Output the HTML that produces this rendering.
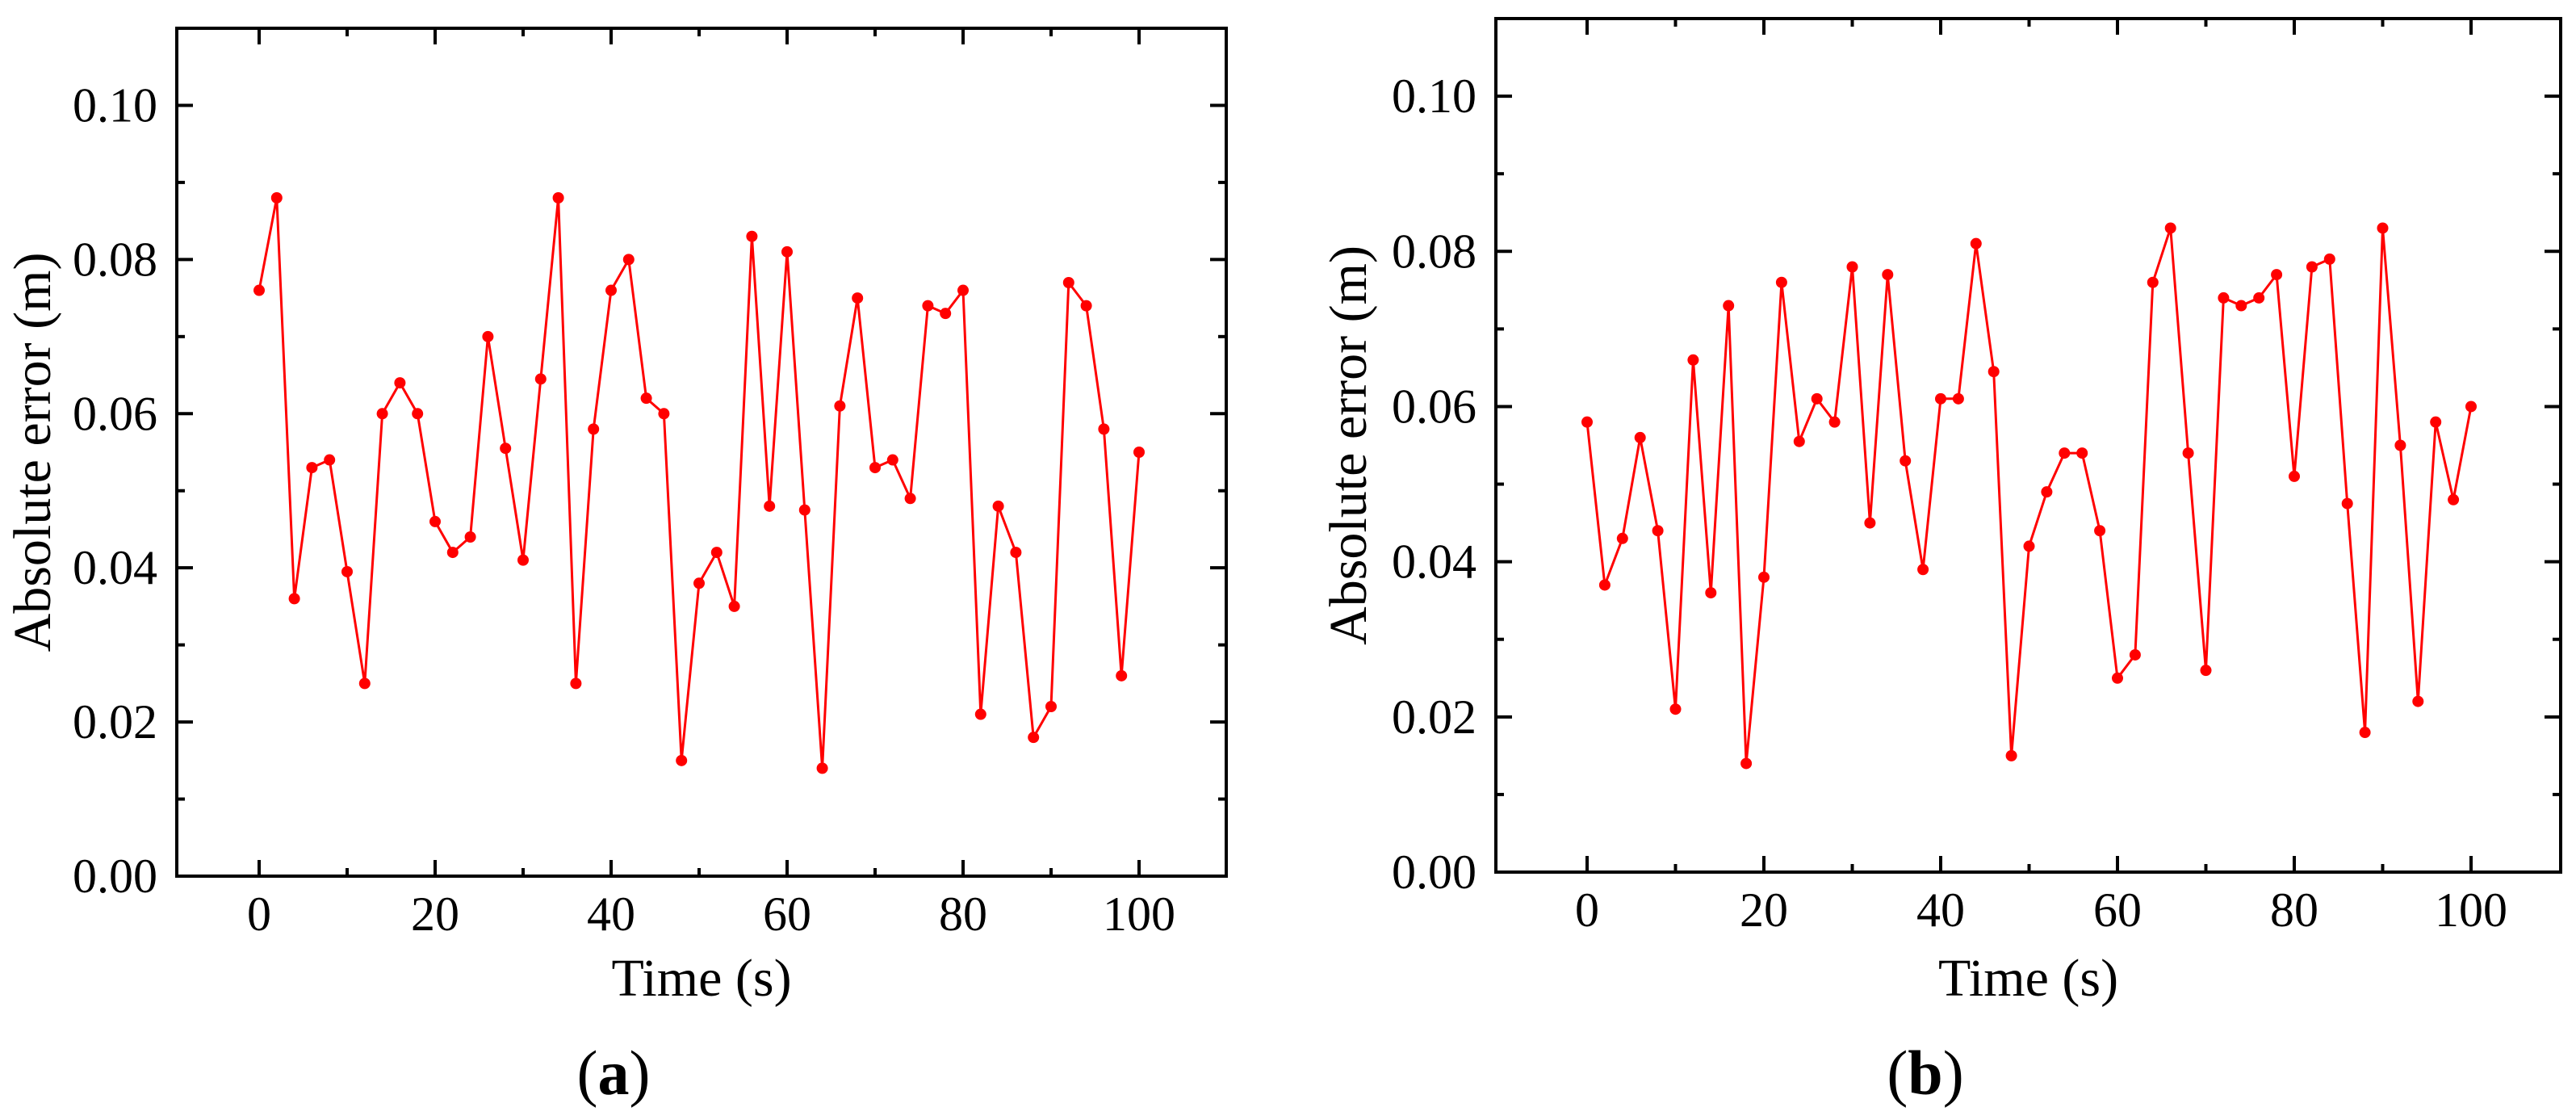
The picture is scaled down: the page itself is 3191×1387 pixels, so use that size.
<!DOCTYPE html>
<html><head><meta charset="utf-8"><style>
html,body{margin:0;padding:0;background:#fff;}
svg{display:block;font-family:"Liberation Serif",serif;}
</style></head><body>
<svg id="chart" width="3191" height="1387" viewBox="0 0 3191 1387" xmlns="http://www.w3.org/2000/svg">
<g id="pa"></g>
<g id="pb"></g>
</svg>
<script>
const times = [0,2,4,6,8,10,12,14,16,18,20,22,24,26,28,30,32,34,36,38,40,42,44,46,48,50,52,54,56,58,60,62,64,66,68,70,72,74,76,78,80,82,84,86,88,90,92,94,96,98,100];
const errorsA = [0.076,0.088,0.036,0.053,0.054,0.0395,0.025,0.060,0.064,0.060,0.046,0.042,0.044,0.070,0.0555,0.041,0.0645,0.088,0.025,0.058,0.076,0.080,0.062,0.060,0.015,0.038,0.042,0.035,0.083,0.048,0.081,0.0475,0.014,0.061,0.075,0.053,0.054,0.049,0.074,0.073,0.076,0.021,0.048,0.042,0.018,0.022,0.077,0.074,0.058,0.026,0.055];
const errorsB = [0.058,0.037,0.043,0.056,0.044,0.021,0.066,0.036,0.073,0.014,0.038,0.076,0.0555,0.061,0.058,0.078,0.045,0.077,0.053,0.039,0.061,0.061,0.081,0.0645,0.015,0.042,0.049,0.054,0.054,0.044,0.025,0.028,0.076,0.083,0.054,0.026,0.074,0.073,0.074,0.077,0.051,0.078,0.079,0.0475,0.018,0.083,0.055,0.022,0.058,0.048,0.060];
const xTickLabels = ["0","20","40","60","80","100"];
const xTickValues = [0,20,40,60,80,100];
const xMinorValues = [10,30,50,70,90];
const yTickLabels = ["0.00","0.02","0.04","0.06","0.08","0.10"];
const yTickValues = [0,0.02,0.04,0.06,0.08,0.10];
const yMinorValues = [0.01,0.03,0.05,0.07,0.09];

const NS="http://www.w3.org/2000/svg";
function mk(parent,tag,attrs,text){const e=document.createElementNS(NS,tag);for(const k in attrs)e.setAttribute(k,attrs[k]);if(text!==undefined)e.textContent=text;parent.appendChild(e);return e;}

function drawPanel(g,cfg,vals,label){
  const X=v=>cfg.x0+cfg.xs*v;
  const Y=v=>cfg.bottom-(cfg.bottom-cfg.top)*v/0.11;
  // series line
  const pts=times.map((t,i)=>X(t).toFixed(1)+","+Y(vals[i]).toFixed(1)).join(" ");
  const line=mk(g,"polyline",{points:pts,fill:"none",stroke:"#ff0000","stroke-width":3,"stroke-linejoin":"round"});
  
  
  times.forEach((t,i)=>{
    const c=mk(g,"circle",{cx:X(t),cy:Y(vals[i]),r:7,fill:"#ff0000"});
    
    
  });
  // frame
  const fr=mk(g,"rect",{x:cfg.left,y:cfg.top,width:cfg.right-cfg.left,height:cfg.bottom-cfg.top,fill:"none",stroke:"#000","stroke-width":4});
  
  
  const tk=mk(g,"g",{stroke:"#000","stroke-width":4});
  
  
  xTickValues.forEach(v=>{const x=X(v);
    mk(tk,"line",{x1:x,y1:cfg.bottom,x2:x,y2:cfg.bottom-20});
    mk(tk,"line",{x1:x,y1:cfg.top,x2:x,y2:cfg.top+20});});
  xMinorValues.forEach(v=>{const x=X(v);
    mk(tk,"line",{x1:x,y1:cfg.bottom,x2:x,y2:cfg.bottom-10});
    mk(tk,"line",{x1:x,y1:cfg.top,x2:x,y2:cfg.top+10});});
  yTickValues.forEach(v=>{const y=Y(v);
    mk(tk,"line",{x1:cfg.left,y1:y,x2:cfg.left+20,y2:y});
    mk(tk,"line",{x1:cfg.right,y1:y,x2:cfg.right-20,y2:y});});
  yMinorValues.forEach(v=>{const y=Y(v);
    mk(tk,"line",{x1:cfg.left,y1:y,x2:cfg.left+10,y2:y});
    mk(tk,"line",{x1:cfg.right,y1:y,x2:cfg.right-10,y2:y});});
  xTickValues.forEach((v,i)=>{
    const t=mk(g,"text",{x:X(v),y:cfg.bottom+67,"font-size":60,"text-anchor":"middle"},xTickLabels[i]);
    
    
  });
  yTickValues.forEach((v,i)=>{
    const t=mk(g,"text",{x:cfg.left-24,y:Y(v)+20,"font-size":60,"text-anchor":"end"},yTickLabels[i]);
    
    
  });
  const cx=(cfg.left+cfg.right)/2;
  const xt=mk(g,"text",{x:cx,y:1233,"font-size":66,"text-anchor":"middle"},"Time (s)");
  
  
  const cy=(cfg.top+cfg.bottom)/2;
  const yt=mk(g,"text",{x:cfg.ytx,y:cy,"font-size":66,"text-anchor":"middle",transform:"rotate(-90 "+cfg.ytx+" "+cy+")"},"Absolute error (m)");
  
  
  const pl=mk(g,"text",{x:cfg.labx,y:1355,"font-size":78,"text-anchor":"middle"});
  
  
  mk(pl,"tspan",{},"(");
  mk(pl,"tspan",{"font-weight":"bold"},label);
  mk(pl,"tspan",{},")");
}
drawPanel(document.getElementById("pa"),{left:219,right:1519,top:35,bottom:1085,x0:321,xs:10.9,ytx:62,labx:760},errorsA,"a");
drawPanel(document.getElementById("pb"),{left:1853,right:3172,top:23,bottom:1080,x0:1966,xs:10.95,ytx:1692,labx:2385},errorsB,"b");
</script>
</body></html>
